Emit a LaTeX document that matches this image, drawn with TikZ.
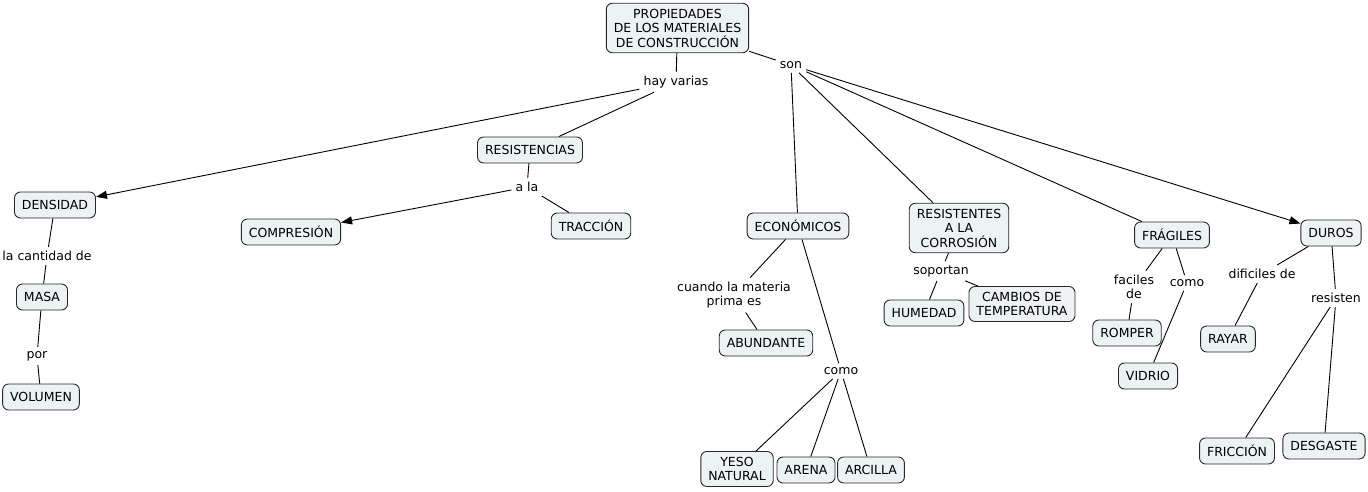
\documentclass[tikz,border=0pt]{standalone}
\usepackage{fontspec}
\setmainfont{DejaVu Sans}
\usepackage{xcolor}
\usepackage{tikz}
\usetikzlibrary{arrows.meta}
\definecolor{cmapfill}{RGB}{236,243,245}
\definecolor{cmapline}{RGB}{40,40,40}
\tikzset{
  concept/.style={draw=cmapline, fill=cmapfill, rounded corners=6pt,
                  align=center, minimum height=26pt, inner xsep=7.5pt,
                  inner ysep=5.5pt, line width=0.9pt,
                  font=\fontsize{12.5}{14.5}\selectfont},
  linkph/.style ={align=center, inner sep=4pt,
                  font=\fontsize{12.5}{14.5}\selectfont},
  lnk/.style    ={line width=0.9pt, draw=black},
  arr/.style    ={lnk, -{Triangle[length=11pt, width=8pt]}},
}

\begin{document}
\begin{tikzpicture}[x=1pt, y=-1pt]
  \useasboundingbox (0,0) rectangle (1368,492);

  % concepts
  \node[concept] (root) at (677.5,28) {PROPIEDADES\\DE LOS MATERIALES\\DE CONSTRUCCIÓN};
  \node[concept] (res)  at (530,150)  {RESISTENCIAS};
  \node[concept] (dens) at (55,205)   {DENSIDAD};
  \node[concept] (masa) at (42,297)   {MASA};
  \node[concept] (vol)  at (41,397)   {VOLUMEN};
  \node[concept] (comp) at (291,232)  {COMPRESIÓN};
  \node[concept] (trac) at (591,226)  {TRACCIÓN};
  \node[concept] (econ) at (798,226)  {ECONÓMICOS};
  \node[concept] (abun) at (766,343)  {ABUNDANTE};
  \node[concept] (yeso) at (737,469)  {YESO\\NATURAL};
  \node[concept] (aren) at (806,470)  {ARENA};
  \node[concept] (arci) at (871,470)  {ARCILLA};
  \node[concept] (corr) at (959,228)  {RESISTENTES\\A LA\\CORROSIÓN};
  \node[concept] (hume) at (924,313)  {HUMEDAD};
  \node[concept] (camb) at (1022,304) {CAMBIOS DE\\TEMPERATURA};
  \node[concept] (frag) at (1172,235) {FRÁGILES};
  \node[concept] (romp) at (1127,333) {ROMPER};
  \node[concept] (vidr) at (1148,376) {VIDRIO};
  \node[concept] (duro) at (1331,233) {DUROS};
  \node[concept] (raya) at (1228,339) {RAYAR};
  \node[concept] (fric) at (1237,451) {FRICCIÓN};
  \node[concept] (desg) at (1324,446) {DESGASTE};

  % linking phrases
  \node[linkph] (lhay)  at (676,82)   {hay varias};
  \node[linkph] (lson)  at (791,65)   {son};
  \node[linkph] (lcant) at (47,256)   {la cantidad de};
  \node[linkph] (lpor)  at (37,356)   {por};
  \node[linkph] (lala)  at (527,187)  {a la};
  \node[linkph] (lcuan) at (734,295)  {cuando la materia\\prima es};
  \node[linkph] (lcomo) at (841,371)  {como};
  \node[linkph] (lsop)  at (941,271)  {soportan};
  \node[linkph] (lfac)  at (1134,287) {faciles\\de};
  \node[linkph] (lcom2) at (1187,283) {como};
  \node[linkph] (ldif)  at (1262,274) {dificiles de};
  \node[linkph] (lresi) at (1336,298) {resisten};

  % connectors
  \draw[lnk] (root) -- (lhay);
  \draw[arr] (lhay) -- (dens);
  \draw[lnk] (lhay) -- (res);
  \draw[lnk] (root) -- (lson);
  \draw[lnk] (lson) -- (econ);
  \draw[lnk] (lson) -- (corr);
  \draw[lnk] (lson) -- (frag);
  \draw[arr] (lson) -- (duro);

  \draw[lnk] (dens)  -- (lcant);
  \draw[lnk] (lcant) -- (masa);
  \draw[lnk] (masa)  -- (lpor);
  \draw[lnk] (lpor)  -- (vol);

  \draw[lnk] (res)  -- (lala);
  \draw[arr] (lala) -- (comp);
  \draw[lnk] (lala) -- (trac);

  \draw[lnk] (econ)  -- (lcuan);
  \draw[lnk] (lcuan) -- (abun);
  \draw[lnk] (econ)  -- (lcomo);
  \draw[lnk] (lcomo) -- (yeso);
  \draw[lnk] (lcomo) -- (aren);
  \draw[lnk] (lcomo) -- (arci);

  \draw[lnk] (corr) -- (lsop);
  \draw[lnk] (lsop) -- (hume);
  \draw[lnk] (lsop) -- (camb);

  \draw[lnk] (frag)  -- (lfac);
  \draw[lnk] (lfac)  -- (romp);
  \draw[lnk] (frag)  -- (lcom2);
  \draw[lnk] (lcom2) -- (vidr);

  \draw[lnk] (duro)  -- (ldif);
  \draw[lnk] (ldif)  -- (raya);
  \draw[lnk] (duro)  -- (lresi);
  \draw[lnk] (lresi) -- (fric);
  \draw[lnk] (lresi) -- (desg);
\end{tikzpicture}
\end{document}
